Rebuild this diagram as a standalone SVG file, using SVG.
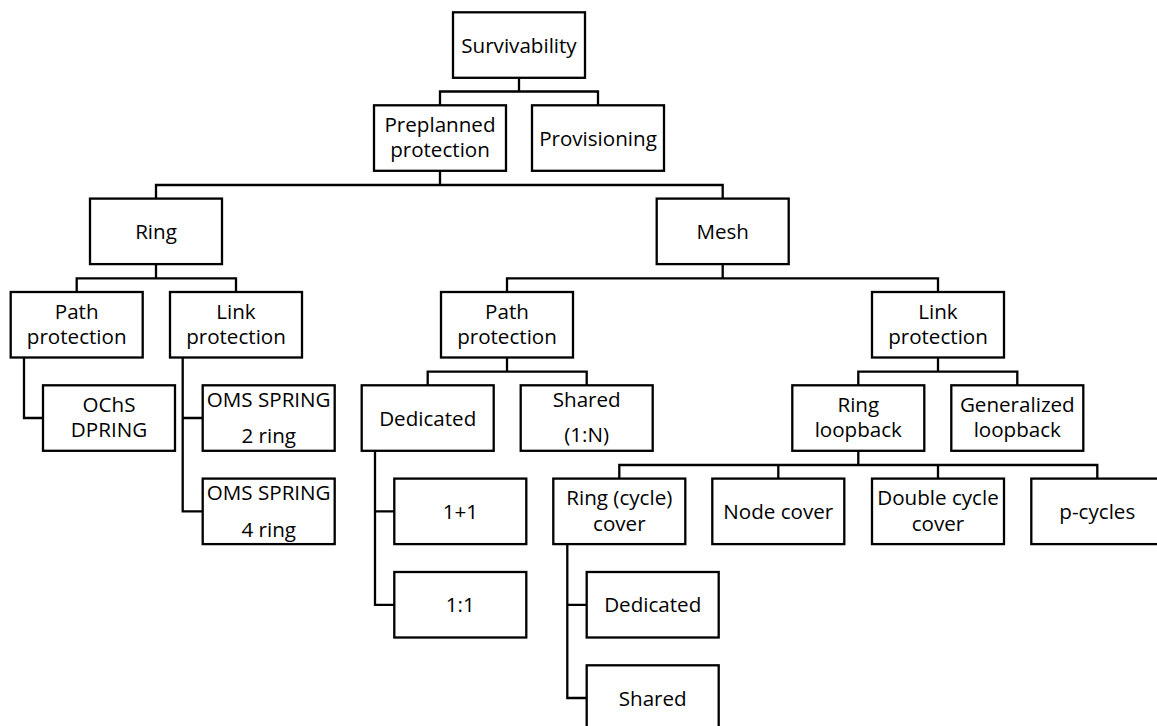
<svg xmlns="http://www.w3.org/2000/svg" width="1157" height="726" viewBox="0 0 1157 726">
<style>
.box{fill:#fff;stroke:#000;stroke-width:2.3}
.t{font-family:"Open Sans","Noto Sans","Liberation Sans",sans-serif;font-size:20.6px;fill:#000;text-anchor:middle}
.c{fill:none;stroke:#000;stroke-width:2.3;stroke-linejoin:miter}
</style>
<rect width="1157" height="726" fill="#fff"/>
<g id="connectors">
<path class="c" d="M519 77.8V91.5M440 105.3V91.5H598V105.3"/>
<path class="c" d="M440 170.8V185M156 198.6V185H722.7V198.6"/>
<path class="c" d="M156 264.1V278.3M76.7 292V278.3H236V292"/>
<path class="c" d="M722.7 264.1V278.3M507 292V278.3H938V292"/>
<path class="c" d="M507 357.5V371.6M427.7 385.3V371.6H586.7V385.3"/>
<path class="c" d="M938 357.5V371.6M858.3 385.3V371.6H1017.3V385.3"/>
<path class="c" d="M858.3 450.8V465M619.3 478.6V465H1097.3V478.6M778.3 465V478.6M938 465V478.6"/>
<path class="c" d="M24 357.5V418H43"/>
<path class="c" d="M182.7 357.5V511.4H202.7M182.7 418H202.7"/>
<path class="c" d="M375 450.8V604.8H394.3M375 511.4H394.3"/>
<path class="c" d="M567.3 544.1V698H586.7M567.3 604.8H586.7"/>
</g>
<g id="survivability"><rect class="box" x="453" y="12.3" width="132" height="65.5"/><text class="t" x="519" y="52.5">Survivability</text></g>
<g id="preplanned"><rect class="box" x="374" y="105.3" width="132" height="65.5"/><text class="t" x="440" y="131.8">Preplanned</text><text class="t" x="440" y="157.3">protection</text></g>
<g id="provisioning"><rect class="box" x="532" y="105.3" width="132" height="65.5"/><text class="t" x="598" y="145.5">Provisioning</text></g>
<g id="ring"><rect class="box" x="90" y="198.6" width="132" height="65.5"/><text class="t" x="156" y="238.8">Ring</text></g>
<g id="mesh"><rect class="box" x="656.7" y="198.6" width="132" height="65.5"/><text class="t" x="722.7" y="238.8">Mesh</text></g>
<g id="ring-path"><rect class="box" x="10.7" y="292" width="132" height="65.5"/><text class="t" x="76.7" y="318.5">Path</text><text class="t" x="76.7" y="344">protection</text></g>
<g id="ring-link"><rect class="box" x="170" y="292" width="132" height="65.5"/><text class="t" x="236" y="318.5">Link</text><text class="t" x="236" y="344">protection</text></g>
<g id="mesh-path"><rect class="box" x="441" y="292" width="132" height="65.5"/><text class="t" x="507" y="318.5">Path</text><text class="t" x="507" y="344">protection</text></g>
<g id="mesh-link"><rect class="box" x="872" y="292" width="132" height="65.5"/><text class="t" x="938" y="318.5">Link</text><text class="t" x="938" y="344">protection</text></g>
<g id="ochs"><rect class="box" x="43" y="385.3" width="132" height="65.5"/><text class="t" x="109" y="411.8">OChS</text><text class="t" x="109" y="437.3">DPRING</text></g>
<g id="oms2"><rect class="box" x="202.7" y="385.3" width="132" height="65.5"/><text class="t" x="268.7" y="406.8">OMS SPRING</text><text class="t" x="268.7" y="443.3">2 ring</text></g>
<g id="oms4"><rect class="box" x="202.7" y="478.6" width="132" height="65.5"/><text class="t" x="268.7" y="500.1">OMS SPRING</text><text class="t" x="268.7" y="536.6">4 ring</text></g>
<g id="dedicated"><rect class="box" x="361.7" y="385.3" width="132" height="65.5"/><text class="t" x="427.7" y="425.5">Dedicated</text></g>
<g id="shared-1n"><rect class="box" x="520.7" y="385.3" width="132" height="65.5"/><text class="t" x="586.7" y="406.8">Shared</text><text class="t" x="586.7" y="442.3">(1:N)</text></g>
<g id="ring-loopback"><rect class="box" x="792.3" y="385.3" width="132" height="65.5"/><text class="t" x="858.3" y="411.8">Ring</text><text class="t" x="858.3" y="437.3">loopback</text></g>
<g id="gen-loopback"><rect class="box" x="951.3" y="385.3" width="132" height="65.5"/><text class="t" x="1017.3" y="411.8">Generalized</text><text class="t" x="1017.3" y="437.3">loopback</text></g>
<g id="one-plus-one"><rect class="box" x="394.3" y="478.6" width="132" height="65.5"/><text class="t" x="460.3" y="518.8">1+1</text></g>
<g id="one-to-one"><rect class="box" x="394.3" y="572" width="132" height="65.5"/><text class="t" x="460.3" y="612.2">1:1</text></g>
<g id="ring-cover"><rect class="box" x="553.3" y="478.6" width="132" height="65.5"/><text class="t" x="619.3" y="505.1">Ring (cycle)</text><text class="t" x="619.3" y="530.6">cover</text></g>
<g id="node-cover"><rect class="box" x="712.3" y="478.6" width="132" height="65.5"/><text class="t" x="778.3" y="518.8">Node cover</text></g>
<g id="double-cycle"><rect class="box" x="872" y="478.6" width="132" height="65.5"/><text class="t" x="938" y="505.1">Double cycle</text><text class="t" x="938" y="530.6">cover</text></g>
<g id="p-cycles"><rect class="box" x="1031.3" y="478.6" width="132" height="65.5"/><text class="t" x="1097.3" y="518.8">p-cycles</text></g>
<g id="cover-dedicated"><rect class="box" x="586.7" y="572" width="132" height="65.5"/><text class="t" x="652.7" y="612.2">Dedicated</text></g>
<g id="cover-shared"><rect class="box" x="586.7" y="665.3" width="132" height="65.5"/><text class="t" x="652.7" y="705.5">Shared</text></g>
</svg>
